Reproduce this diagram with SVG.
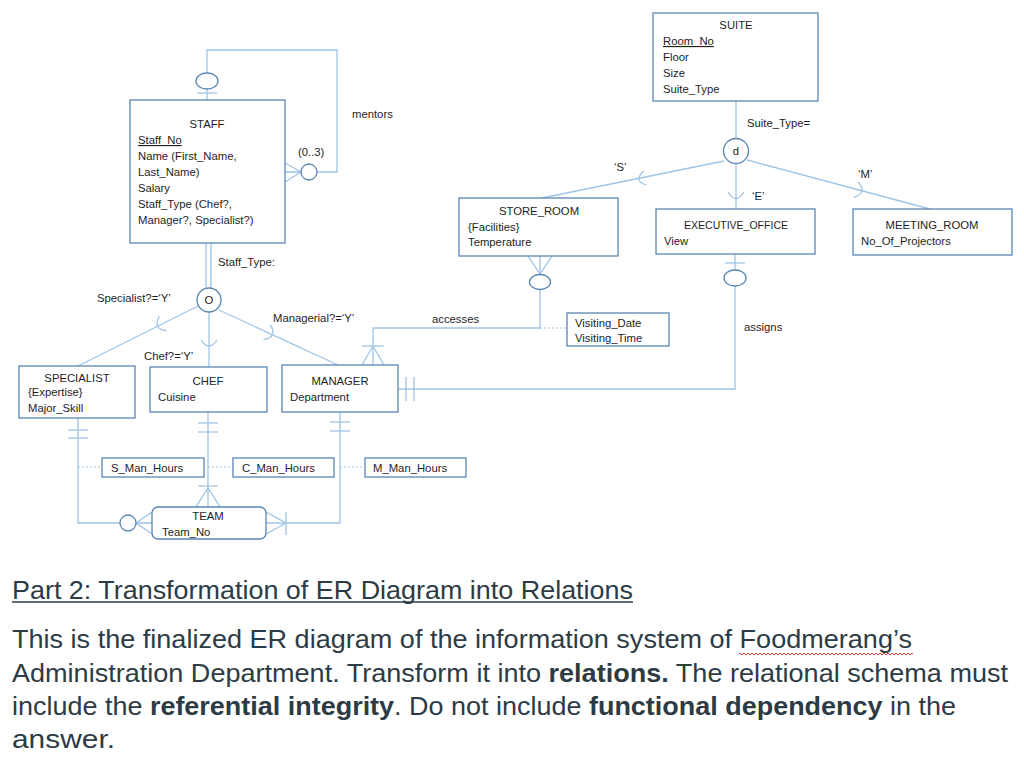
<svg xmlns="http://www.w3.org/2000/svg" width="1024" height="762" viewBox="0 0 1024 762">
<defs>
<style>
.t{font-family:"Liberation Sans",Arial,sans-serif;font-size:11.3px;fill:#1e1e1e}
.c{text-anchor:middle}
.box{fill:#fff;stroke:#5a86b4;stroke-width:1.3}
.ln{fill:none;stroke:#9fc4e6;stroke-width:1.3}
.dot{fill:none;stroke:#9fc4e6;stroke-width:1.2;stroke-dasharray:2 2}
.cir{fill:#fff;stroke:#5a86b4;stroke-width:1.3}
.u{text-decoration:underline}
.p{font-family:"Liberation Sans",Arial,Helvetica,sans-serif;font-size:25px;fill:#2d3b45}
.b{font-weight:bold}
</style>
<pattern id="sq" width="4" height="4" patternUnits="userSpaceOnUse">
<path d="M0,1 L2,3 L4,1" fill="none" stroke="#e0201b" stroke-width="0.9"/>
</pattern>
</defs>
<rect width="1024" height="762" fill="#fff"/>

<g id="connectors">
<polyline class="ln" points="207,100 207,89"/>
<polyline class="ln" points="207,73 207,50 337,50 337,172 317,172"/>
<line class="ln" x1="197" y1="93" x2="217" y2="93"/>
<path class="ln" d="M301,172 L285,163 M301,172 L285,172 M301,172 L285,182"/>
<line class="ln" x1="206" y1="243" x2="206" y2="289"/>
<line class="ln" x1="211" y1="243" x2="211" y2="289"/>
<line class="ln" x1="198" y1="306" x2="78" y2="366"/>
<line class="ln" x1="209" y1="312" x2="209" y2="367"/>
<line class="ln" x1="219" y1="310" x2="338" y2="365"/>
<path class="ln" d="M166.6,330.7 Q152.3,328.9 159.4,316.3"/>
<path class="ln" d="M201,340 Q209,352 217,340"/>
<path class="ln" d="M270.4,324.9 Q277.9,337.2 263.6,339.5"/>
<line class="ln" x1="736" y1="101" x2="736" y2="139"/>
<line class="ln" x1="724" y1="161" x2="542" y2="198"/>
<line class="ln" x1="736" y1="164" x2="736" y2="209"/>
<line class="ln" x1="747" y1="160" x2="930" y2="209"/>
<path class="ln" d="M646.3,184.9 Q633,181 643.7,171.1"/>
<path class="ln" d="M728,192 Q736,205 744,192"/>
<path class="ln" d="M858,181.9 Q867.6,192.7 854,197.3"/>
<path class="ln" d="M528,256 L540,274 L552,256 M540,256 L540,275"/>
<polyline class="ln" points="540,290 540,328 373,328 373,365"/>
<line class="ln" x1="362" y1="346" x2="384" y2="346"/>
<path class="ln" d="M362,365 L373,346 L384,365"/>
<line class="dot" x1="540" y1="328" x2="567" y2="328"/>
<line class="ln" x1="735" y1="254" x2="735" y2="270"/>
<line class="ln" x1="725" y1="263" x2="745" y2="263"/>
<polyline class="ln" points="735,286 735,389 398,389"/>
<line class="ln" x1="406" y1="377" x2="406" y2="401"/>
<line class="ln" x1="414" y1="377" x2="414" y2="401"/>
<polyline class="ln" points="78,418 78,523 120,523"/>
<line class="ln" x1="68" y1="430" x2="88" y2="430"/>
<line class="ln" x1="68" y1="438" x2="88" y2="438"/>
<path class="ln" d="M136,523 L152,523 M136,523 L152,512 M136,523 L152,534"/>
<line class="dot" x1="78" y1="467" x2="102" y2="467"/>
<line class="ln" x1="208" y1="412" x2="208" y2="507"/>
<line class="ln" x1="198" y1="423" x2="218" y2="423"/>
<line class="ln" x1="198" y1="432" x2="218" y2="432"/>
<line class="ln" x1="198" y1="486" x2="218" y2="486"/>
<path class="ln" d="M196,507 L208,488 L220,507"/>
<line class="dot" x1="208" y1="467" x2="233" y2="467"/>
<polyline class="ln" points="340,412 340,523 266,523"/>
<line class="ln" x1="330" y1="422" x2="350" y2="422"/>
<line class="ln" x1="330" y1="431" x2="350" y2="431"/>
<line class="ln" x1="286" y1="512" x2="286" y2="535"/>
<path class="ln" d="M266,512 L286,523 L266,534"/>
<line class="dot" x1="340" y1="467" x2="365" y2="467"/>
</g>

<g id="connector-symbols">
<ellipse class="cir" cx="207" cy="81" rx="11" ry="8"/>
<circle class="cir" cx="309" cy="172" r="8"/>
<ellipse class="cir" cx="540" cy="282" rx="10.5" ry="7.5"/>
<ellipse class="cir" cx="735" cy="278" rx="11" ry="8"/>
<circle class="cir" cx="128" cy="523" r="8"/>
</g>

<g id="labels">
<text class="t" x="352" y="118">mentors</text>
<text class="t" x="298" y="156">(0..3)</text>
<text class="t" x="218" y="266">Staff_Type:</text>
<text class="t" x="97" y="302">Specialist?=‘Y’</text>
<text class="t" x="273" y="322">Managerial?=‘Y’</text>
<text class="t" x="144" y="360">Chef?=‘Y’</text>
<text class="t" x="747" y="127">Suite_Type=</text>
<text class="t" x="614" y="171">‘S’</text>
<text class="t" x="752" y="200">‘E’</text>
<text class="t" x="858" y="178">‘M’</text>
<text class="t" x="432" y="323">accesses</text>
<text class="t" x="744" y="331">assigns</text>
</g>

<g id="staff">
<rect class="box" x="130" y="100" width="155" height="143"/>
<text class="t c" x="207" y="128">STAFF</text>
<text class="t u" x="138" y="144">Staff_No</text>
<text class="t" x="138" y="160">Name (First_Name,</text>
<text class="t" x="138" y="176">Last_Name)</text>
<text class="t" x="138" y="192">Salary</text>
<text class="t" x="138" y="208">Staff_Type (Chef?,</text>
<text class="t" x="138" y="224">Manager?, Specialist?)</text>
</g>

<g id="disjoint-o">
<circle class="cir" cx="209" cy="300" r="12"/>
<text class="t c" x="209" y="304">O</text>
</g>

<g id="suite">
<rect class="box" x="653" y="13" width="165" height="88"/>
<text class="t c" x="736" y="29">SUITE</text>
<text class="t u" x="663" y="45">Room_No</text>
<text class="t" x="663" y="61">Floor</text>
<text class="t" x="663" y="77">Size</text>
<text class="t" x="663" y="93">Suite_Type</text>
</g>

<g id="disjoint-d">
<circle class="cir" cx="736" cy="151" r="12.5"/>
<text class="t c" x="736" y="155">d</text>
</g>

<g id="store-room">
<rect class="box" x="459" y="198" width="159" height="58"/>
<text class="t c" x="539" y="215">STORE_ROOM</text>
<text class="t" x="468" y="231">{Facilities}</text>
<text class="t" x="468" y="246">Temperature</text>
</g>

<g id="executive-office">
<rect class="box" x="656" y="209" width="159" height="45"/>
<text class="t c" x="736" y="229" textLength="104" lengthAdjust="spacingAndGlyphs">EXECUTIVE_OFFICE</text>
<text class="t" x="664" y="245">View</text>
</g>

<g id="meeting-room">
<rect class="box" x="853" y="209" width="159" height="46"/>
<text class="t c" x="932" y="229">MEETING_ROOM</text>
<text class="t" x="861" y="245">No_Of_Projectors</text>
</g>

<g id="visiting">
<rect class="box" x="567" y="313" width="102" height="33"/>
<text class="t" x="575" y="327">Visiting_Date</text>
<text class="t" x="575" y="342">Visiting_Time</text>
</g>

<g id="specialist">
<rect class="box" x="19" y="366" width="116" height="52"/>
<text class="t c" x="77" y="382">SPECIALIST</text>
<text class="t" x="28" y="396">{Expertise}</text>
<text class="t" x="28" y="412">Major_Skill</text>
</g>

<g id="chef">
<rect class="box" x="150" y="367" width="117" height="45"/>
<text class="t c" x="208" y="385">CHEF</text>
<text class="t" x="158" y="401">Cuisine</text>
</g>

<g id="manager">
<rect class="box" x="282" y="365" width="116" height="47"/>
<text class="t c" x="340" y="385">MANAGER</text>
<text class="t" x="290" y="401">Department</text>
</g>

<g id="s-man-hours">
<rect class="box" x="102" y="458" width="102" height="19"/>
<text class="t" x="111" y="472">S_Man_Hours</text>
</g>
<g id="c-man-hours">
<rect class="box" x="233" y="458" width="101" height="19"/>
<text class="t" x="242" y="472">C_Man_Hours</text>
</g>
<g id="m-man-hours">
<rect class="box" x="365" y="458" width="101" height="19"/>
<text class="t" x="373" y="472">M_Man_Hours</text>
</g>

<g id="team">
<rect class="box" x="152" y="507" width="114" height="32" rx="6"/>
<text class="t c" x="208" y="520">TEAM</text>
<text class="t" x="162" y="536">Team_No</text>
</g>

<g id="description">
<text class="p" x="12" y="599" textLength="621" lengthAdjust="spacingAndGlyphs">Part 2: Transformation of ER Diagram into Relations</text>
<line x1="12" y1="602" x2="633" y2="602" stroke="#2d3b45" stroke-width="1.3"/>
<text class="p" x="12" y="648" textLength="900" lengthAdjust="spacingAndGlyphs">This is the finalized ER diagram of the information system of Foodmerang’s</text>
<rect x="739" y="652" width="174" height="4" fill="url(#sq)"/>
<text class="p" x="12" y="682" textLength="996" lengthAdjust="spacingAndGlyphs">Administration Department. Transform it into <tspan class="b">relations.</tspan> The relational schema must</text>
<text class="p" x="12" y="715" textLength="944" lengthAdjust="spacingAndGlyphs">include the <tspan class="b">referential integrity</tspan>. Do not include <tspan class="b">functional dependency</tspan> in the</text>
<text class="p" x="12" y="748" textLength="103" lengthAdjust="spacingAndGlyphs">answer.</text>
</g>
</svg>
